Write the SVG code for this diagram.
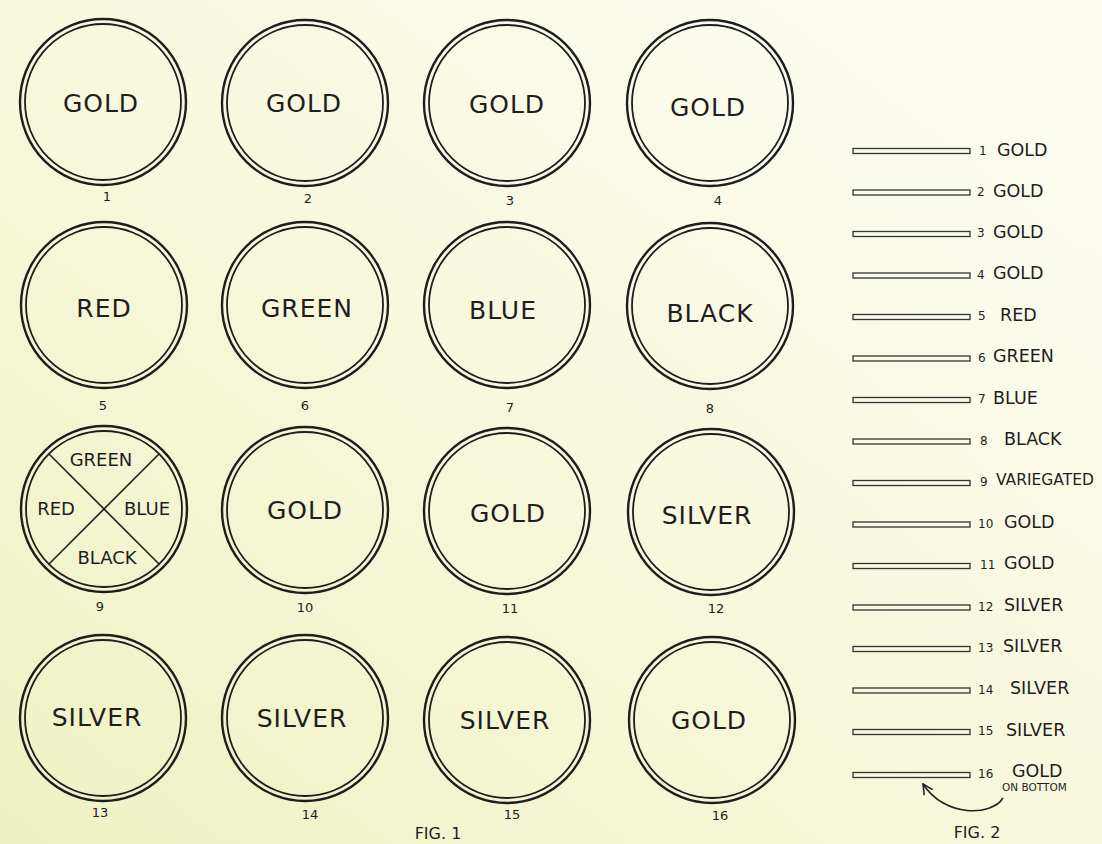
<svg xmlns="http://www.w3.org/2000/svg" width="1102" height="844" viewBox="0 0 1102 844">
<defs>
<linearGradient id="bg" x1="1" y1="0" x2="0" y2="1">
<stop offset="0" stop-color="#fdfdf4"/>
<stop offset="0.5" stop-color="#f8f8de"/>
<stop offset="1" stop-color="#eef2c2"/>
</linearGradient>
<marker id="ah" viewBox="0 0 12 12" refX="11" refY="6" markerWidth="12" markerHeight="12" markerUnits="userSpaceOnUse" orient="auto">
<path d="M1,1 L11,6 L1,11" fill="none" stroke="#222" stroke-width="1.6"/>
</marker>
</defs>
<style>
.ro{fill:none;stroke:#1e1e1e;stroke-width:2.4}
.ri{fill:none;stroke:#1e1e1e;stroke-width:1.8}
.t{font-family:"DejaVu Sans",sans-serif;fill:#1e1e1e;text-anchor:middle;dominant-baseline:central}
.big{font-size:25px;letter-spacing:1px}
.mid{font-size:18px}
.num{font-size:13px}
.bar{fill:none;stroke:#333;stroke-width:1.3}
.bl{font-family:"DejaVu Sans",sans-serif;fill:#1e1e1e;font-size:17.5px;dominant-baseline:central}
.bn{font-family:"DejaVu Sans",sans-serif;fill:#1e1e1e;font-size:12px;dominant-baseline:central}
.ln{stroke:#1e1e1e;stroke-width:1.6}
</style>
<rect width="1102" height="844" fill="url(#bg)"/>

<g id="c1"><circle class="ro" cx="103" cy="102" r="83"/><circle class="ri" cx="103" cy="102" r="78"/><text class="t big" x="101" y="103">GOLD</text><text class="t num" x="107" y="196">1</text></g>
<g id="c2"><circle class="ro" cx="305" cy="103" r="83"/><circle class="ri" cx="305" cy="103" r="78"/><text class="t big" x="304" y="103">GOLD</text><text class="t num" x="308" y="198">2</text></g>
<g id="c3"><circle class="ro" cx="507" cy="103" r="83"/><circle class="ri" cx="507" cy="103" r="78"/><text class="t big" x="507" y="104">GOLD</text><text class="t num" x="510" y="200">3</text></g>
<g id="c4"><circle class="ro" cx="710" cy="103" r="83"/><circle class="ri" cx="710" cy="103" r="78"/><text class="t big" x="708" y="107">GOLD</text><text class="t num" x="718" y="200">4</text></g>

<g id="c5"><circle class="ro" cx="104" cy="305" r="83"/><circle class="ri" cx="104" cy="305" r="78"/><text class="t big" x="104" y="308">RED</text><text class="t num" x="103" y="405">5</text></g>
<g id="c6"><circle class="ro" cx="305" cy="305" r="83"/><circle class="ri" cx="305" cy="305" r="78"/><text class="t big" x="307" y="308">GREEN</text><text class="t num" x="305" y="405">6</text></g>
<g id="c7"><circle class="ro" cx="507" cy="305" r="83"/><circle class="ri" cx="507" cy="305" r="78"/><text class="t big" x="503" y="310">BLUE</text><text class="t num" x="510" y="407">7</text></g>
<g id="c8"><circle class="ro" cx="710" cy="306" r="83"/><circle class="ri" cx="710" cy="306" r="78"/><text class="t big" x="710" y="313">BLACK</text><text class="t num" x="710" y="408">8</text></g>

<g id="c9"><circle class="ro" cx="104" cy="509" r="83"/><circle class="ri" cx="104" cy="509" r="78"/>
<line class="ln" x1="49" y1="454" x2="159" y2="564"/><line class="ln" x1="159" y1="454" x2="49" y2="564"/>
<text class="t mid" x="101" y="459">GREEN</text><text class="t mid" x="56" y="508">RED</text><text class="t mid" x="147" y="508">BLUE</text><text class="t mid" x="107" y="557">BLACK</text>
<text class="t num" x="100" y="606">9</text></g>
<g id="c10"><circle class="ro" cx="305" cy="510" r="83"/><circle class="ri" cx="305" cy="510" r="78"/><text class="t big" x="305" y="510">GOLD</text><text class="t num" x="305" y="607">10</text></g>
<g id="c11"><circle class="ro" cx="507" cy="511" r="83"/><circle class="ri" cx="507" cy="511" r="78"/><text class="t big" x="508" y="513">GOLD</text><text class="t num" x="510" y="608">11</text></g>
<g id="c12"><circle class="ro" cx="711" cy="512" r="83"/><circle class="ri" cx="711" cy="512" r="78"/><text class="t big" x="707" y="515">SILVER</text><text class="t num" x="716" y="608">12</text></g>

<g id="c13"><circle class="ro" cx="103" cy="718" r="83"/><circle class="ri" cx="103" cy="718" r="78"/><text class="t big" x="97" y="717">SILVER</text><text class="t num" x="100" y="812">13</text></g>
<g id="c14"><circle class="ro" cx="305" cy="718" r="83"/><circle class="ri" cx="305" cy="718" r="78"/><text class="t big" x="302" y="718">SILVER</text><text class="t num" x="310" y="814">14</text></g>
<g id="c15"><circle class="ro" cx="507" cy="720" r="83"/><circle class="ri" cx="507" cy="720" r="78"/><text class="t big" x="505" y="720">SILVER</text><text class="t num" x="512" y="814">15</text></g>
<g id="c16"><circle class="ro" cx="712" cy="720" r="83"/><circle class="ri" cx="712" cy="720" r="78"/><text class="t big" x="709" y="720">GOLD</text><text class="t num" x="720" y="815">16</text></g>

<text class="t" x="438" y="833" style="font-size:16px">FIG. 1</text>

<g id="fig2">
<g id="b1"><rect class="bar" x="853" y="148.5" width="117" height="5"/><text class="bn" x="979" y="151">1</text><text class="bl" x="997" y="150">GOLD</text></g>
<g id="b2"><rect class="bar" x="853" y="190" width="117" height="5"/><text class="bn" x="977" y="192">2</text><text class="bl" x="993" y="191">GOLD</text></g>
<g id="b3"><rect class="bar" x="853" y="231.5" width="117" height="5"/><text class="bn" x="977" y="233">3</text><text class="bl" x="993" y="232">GOLD</text></g>
<g id="b4"><rect class="bar" x="853" y="273" width="117" height="5"/><text class="bn" x="977" y="275">4</text><text class="bl" x="993" y="273">GOLD</text></g>
<g id="b5"><rect class="bar" x="853" y="314.5" width="117" height="5"/><text class="bn" x="978" y="316">5</text><text class="bl" x="1000" y="315">RED</text></g>
<g id="b6"><rect class="bar" x="853" y="356" width="117" height="5"/><text class="bn" x="978" y="358">6</text><text class="bl" x="993" y="356">GREEN</text></g>
<g id="b7"><rect class="bar" x="853" y="397.5" width="117" height="5"/><text class="bn" x="978" y="399">7</text><text class="bl" x="993" y="398">BLUE</text></g>
<g id="b8"><rect class="bar" x="853" y="439" width="117" height="5"/><text class="bn" x="980" y="441">8</text><text class="bl" x="1004" y="439">BLACK</text></g>
<g id="b9"><rect class="bar" x="853" y="480.5" width="117" height="5"/><text class="bn" x="980" y="482">9</text><text class="bl" x="996" y="480" style="font-size:15.5px">VARIEGATED</text></g>
<g id="b10"><rect class="bar" x="853" y="522" width="117" height="5"/><text class="bn" x="978" y="524">10</text><text class="bl" x="1004" y="522">GOLD</text></g>
<g id="b11"><rect class="bar" x="853" y="563.5" width="117" height="5"/><text class="bn" x="980" y="565">11</text><text class="bl" x="1004" y="563">GOLD</text></g>
<g id="b12"><rect class="bar" x="853" y="605" width="117" height="5"/><text class="bn" x="978" y="607">12</text><text class="bl" x="1004" y="605">SILVER</text></g>
<g id="b13"><rect class="bar" x="853" y="646.5" width="117" height="5"/><text class="bn" x="978" y="648">13</text><text class="bl" x="1003" y="646">SILVER</text></g>
<g id="b14"><rect class="bar" x="853" y="688" width="117" height="5"/><text class="bn" x="978" y="690">14</text><text class="bl" x="1010" y="688">SILVER</text></g>
<g id="b15"><rect class="bar" x="853" y="729.5" width="117" height="5"/><text class="bn" x="978" y="731">15</text><text class="bl" x="1006" y="730">SILVER</text></g>
<g id="b16"><rect class="bar" x="853" y="772.5" width="117" height="5"/><text class="bn" x="978" y="774">16</text><text class="bl" x="1012" y="771">GOLD</text><text class="bn" x="1002" y="787" style="font-size:10.5px">ON BOTTOM</text></g>
</g>

<g id="connectors">
<path d="M1003,798 C992,816 945,818 923,784" fill="none" stroke="#222" stroke-width="1.6" marker-end="url(#ah)"/>
</g>

<text class="t" x="977" y="832" style="font-size:16px">FIG. 2</text>
</svg>
